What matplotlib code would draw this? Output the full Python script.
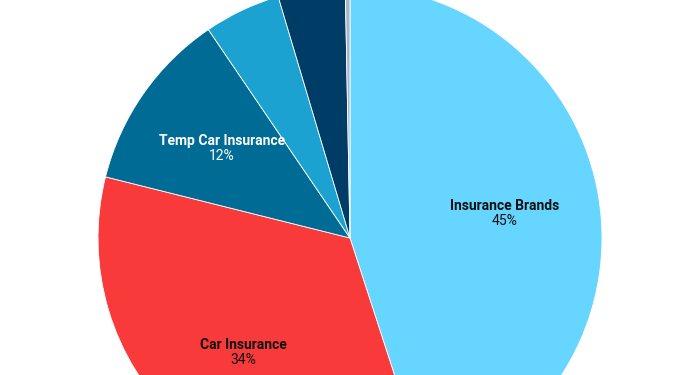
import matplotlib.pyplot as plt
import numpy as np

# datos del gráfico
categorias = ['Insurance Brands', 'Car Insurance', 'Temp Car Insurance',
              'Other 1', 'Other 2', 'Other 3']
valores = [45.0, 33.9, 11.6, 4.9, 4.3, 0.3]
colores = ['#66d5ff', '#f93a3a', '#006c96', '#1ca2d0', '#003d66', '#a9b4c8']
mostrar = [True, True, True, False, False, False]
color_texto = ['#111111', '#111111', '#ffffff', None, None, None]

plt.rcParams['font.family'] = ['Roboto', 'DejaVu Sans']

fig = plt.figure(figsize=(7, 3.75), dpi=100)
ax = fig.add_axes([0, 0, 1, 1])

wedges, _ = ax.pie(valores, colors=colores, startangle=90, counterclock=False,
                   radius=1, wedgeprops=dict(edgecolor='white', linewidth=0.6))

# etiquetas dentro de los sectores
total = sum(valores)
for w, cat, val, m, ct in zip(wedges, categorias, valores, mostrar, color_texto):
    if not m:
        continue
    ang = np.deg2rad((w.theta1 + w.theta2) / 2)
    x, y = 0.62 * np.cos(ang), 0.62 * np.sin(ang)
    ax.text(x, y + 0.03, cat, ha='center', va='center', fontsize=10,
            fontweight='bold', color=ct)
    ax.text(x, y - 0.031, f'{round(val / total * 100)}%', ha='center',
            va='center', fontsize=10, color=ct)

ax.set_xlim(-350 / 252, 350 / 252)
ax.set_ylim(-137 / 252, 238 / 252)
ax.set_aspect('auto')
ax.axis('off')

fig.savefig('out.png', dpi=100)
